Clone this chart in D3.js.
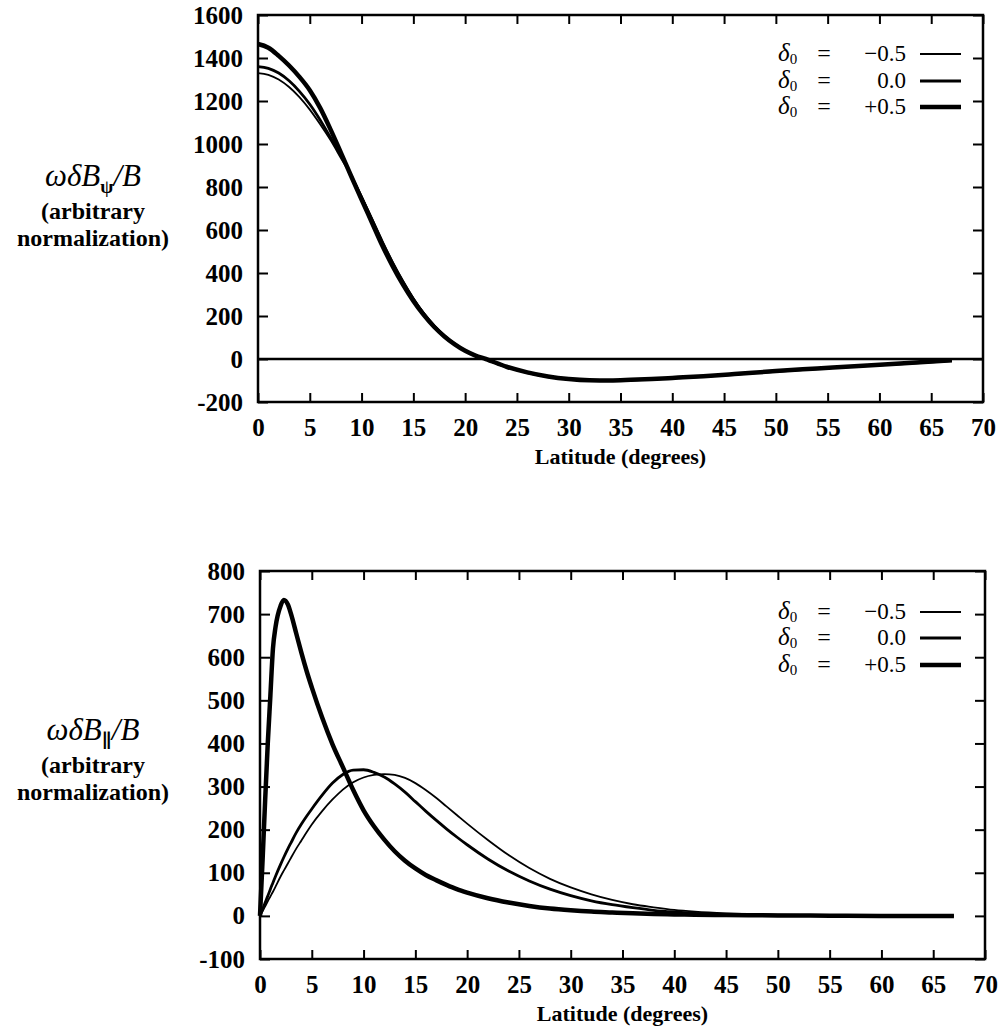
<!DOCTYPE html>
<html>
<head>
<meta charset="utf-8">
<script src="https://cdnjs.cloudflare.com/ajax/libs/d3/7.8.5/d3.min.js"></script>
<style>
body { margin: 0; background: #fff; }
svg { display: block; }
.tick text { font-family: "Liberation Serif", "DejaVu Serif", serif; font-weight: bold; font-size: 25px; fill: #000; }
.tick line { stroke: #000; stroke-width: 2; }
.etiqueta { font-family: "Liberation Serif", "DejaVu Serif", serif; fill: #000; }
</style>
</head>
<body>
<svg width="1005" height="1030"></svg>
<script>
// ticks de latitud (comunes a los dos paneles)
var latTicks = [0, 5, 10, 15, 20, 25, 30, 35, 40, 45, 50, 55, 60, 65, 70];

// panel superior: omega dB_psi / B
var latPsi = [0,1,2,3,4,5,6,7,8,9,10,11,12,13,14,15,16,17,18,19,20,21,22,24,26,28,30,32,34,36,38,40,43,46,50,54,58,62,67];
var psiMinus = [1330,1322,1300,1265,1218,1160,1092,1018,935,852,758,655,551,453,364,284,215,158,110,71,40,17,0,-35,-61,-80,-92,-98,-99,-96,-92,-87,-79,-69,-55,-43,-31,-20,-5];
var psiZero  = [1360,1352,1330,1294,1245,1185,1112,1030,948,852,752,648,543,446,358,279,211,154,107,70,39,16,-1,-37,-63,-82,-94,-100,-101,-98,-94,-89,-81,-71,-57,-45,-33,-22,-7];
var psiPlus  = [1465,1448,1410,1365,1312,1250,1168,1068,960,850,742,635,528,432,346,270,205,150,105,68,38,16,0,-36,-62,-81,-93,-99,-100,-97,-93,-88,-80,-70,-56,-44,-32,-21,-6];
var psiTicks = [-200, 0, 200, 400, 600, 800, 1000, 1200, 1400, 1600];

// panel inferior: omega dB_par / B
var latPar = [0,0.25,0.5,0.75,1,1.25,1.5,2,2.3,2.7,3,3.5,4,4.5,5,6,7,8,9,10,11,12,13,14,15,16,17,18,19,20,22,24,26,28,30,32,34,36,38,40,42,45,50,55,60,67];
var parMinus = [0,11,22,34,45,56,68,92,105,122,135,156,175,194,212,243,270,293,310,321,327,329,327,320,308,292,274,254,234,214,176,141,111,86,66,50,37,27,20,14,10,6,2.5,1,0,0];
var parZero  = [0,15,31,46,62,77,92,120,136,156,170,193,213,231,248,280,308,328,338,339,333,322,306,287,265,243,222,202,183,165,132,104,81,62,47,35,26,19,13,9,6,3.5,1.5,0.5,0,0];
var parPlus  = [0,130,270,400,510,620,670,720,733,722,700,655,610,568,530,460,398,345,292,245,208,177,150,128,110,95,83,72,62,54,41,31,23,17,13,10,8,6,4.5,3.5,2.5,2,1,0.5,0,0];
var parTicks = [-100, 0, 100, 200, 300, 400, 500, 600, 700, 800];

var deltas = ["\u22120.5", "0.0", "+0.5"];
var grosores = [1.8, 2.8, 4.5];

var svg = d3.select("svg");

function dibujar_panel(p) {
  var x = d3.scaleLinear().domain([0, 70]).range([p.x0, p.x1]);
  var y = d3.scaleLinear().domain([p.ymin, p.ymax]).range([p.y0, p.y1]);
  var g = svg.append("g");

  // ejes con ticks hacia adentro
  g.append("g").attr("transform", "translate(0," + p.y0 + ")")
    .call(d3.axisBottom(x).tickValues(latTicks).tickSize(-9).tickPadding(16));
  g.append("g").attr("transform", "translate(0," + p.y1 + ")")
    .call(d3.axisTop(x).tickValues(latTicks).tickSize(-9).tickFormat(""));
  g.append("g").attr("transform", "translate(" + p.x0 + ",0)")
    .call(d3.axisLeft(y).tickValues(p.yticks).tickSize(-10).tickPadding(15)
      .tickFormat(function(d) { return String(d); }));
  g.append("g").attr("transform", "translate(" + p.x1 + ",0)")
    .call(d3.axisRight(y).tickValues(p.yticks).tickSize(-10).tickFormat(""));
  g.selectAll(".domain").remove();

  g.append("rect")
    .attr("x", p.x0).attr("y", p.y1)
    .attr("width", p.x1 - p.x0).attr("height", p.y0 - p.y1)
    .attr("fill", "none").attr("stroke", "#000").attr("stroke-width", 2.5);

  if (p.lineaCero) {
    g.append("line")
      .attr("x1", p.x0).attr("x2", p.x1)
      .attr("y1", y(0)).attr("y2", y(0))
      .attr("stroke", "#000").attr("stroke-width", 2.5);
  }

  var linea = d3.line()
    .curve(d3.curveMonotoneX)
    .x(function(d) { return x(d[0]); })
    .y(function(d) { return y(d[1]); });

  p.series.forEach(function(s, i) {
    var datos = p.lat.map(function(l, j) { return [l, s[j]]; });
    g.append("path")
      .attr("d", linea(datos))
      .attr("fill", "none")
      .attr("stroke", "#000")
      .attr("stroke-width", grosores[i])
      .attr("stroke-linejoin", "round");
  });

  // leyenda
  deltas.forEach(function(d, i) {
    var ly = p.leyendaY[i];
    var t = g.append("text").attr("class", "etiqueta")
      .attr("x", 778).attr("y", ly + 7).style("font-size", "23px");
    t.append("tspan").style("font-style", "italic").style("font-size", "25px").text("\u03b4");
    t.append("tspan").attr("dy", 3).style("font-size", "15px").text("0");
    g.append("text").attr("class", "etiqueta")
      .attr("x", 824).attr("y", ly + 7).attr("text-anchor", "middle")
      .style("font-size", "24px").text("=");
    g.append("text").attr("class", "etiqueta")
      .attr("x", 906).attr("y", ly + 7).attr("text-anchor", "end")
      .style("font-size", "23px").text(d);
    g.append("line")
      .attr("x1", 920).attr("x2", 961)
      .attr("y1", ly).attr("y2", ly)
      .attr("stroke", "#000").attr("stroke-width", grosores[i]);
  });

  // titulo eje x
  g.append("text").attr("class", "etiqueta")
    .attr("x", (p.x0 + p.x1) / 2).attr("y", p.y0 + 62)
    .attr("text-anchor", "middle")
    .style("font-size", "22px").style("font-weight", "bold")
    .text("Latitude (degrees)");

  // titulo eje y
  var m = g.append("text").attr("class", "etiqueta")
    .attr("x", 93).attr("y", p.tituloY)
    .attr("text-anchor", "middle").style("font-size", "31px");
  m.append("tspan").style("font-style", "italic").text("\u03c9\u03b4B");
  m.append("tspan").attr("dy", 7).style("font-size", "19px").style("font-weight", "bold").text(p.sub);
  m.append("tspan").attr("dy", -7).style("font-style", "italic").text("/B");
  g.append("text").attr("class", "etiqueta")
    .attr("x", 93).attr("y", p.tituloY + 33)
    .attr("text-anchor", "middle").style("font-size", "24px").style("font-weight", "bold")
    .text("(arbitrary");
  g.append("text").attr("class", "etiqueta")
    .attr("x", 93).attr("y", p.tituloY + 60)
    .attr("text-anchor", "middle").style("font-size", "24px").style("font-weight", "bold")
    .text("normalization)");
}

dibujar_panel({
  x0: 258, x1: 983, y0: 402, y1: 15,
  ymin: -200, ymax: 1600, yticks: psiTicks,
  lat: latPsi, series: [psiMinus, psiZero, psiPlus],
  lineaCero: true, leyendaY: [54, 81, 107],
  tituloY: 186, sub: "\u03c8"
});

dibujar_panel({
  x0: 260, x1: 985, y0: 959, y1: 571,
  ymin: -100, ymax: 800, yticks: parTicks,
  lat: latPar, series: [parMinus, parZero, parPlus],
  lineaCero: false, leyendaY: [612, 638, 665],
  tituloY: 740, sub: "\u2225"
});
</script>
</body>
</html>
